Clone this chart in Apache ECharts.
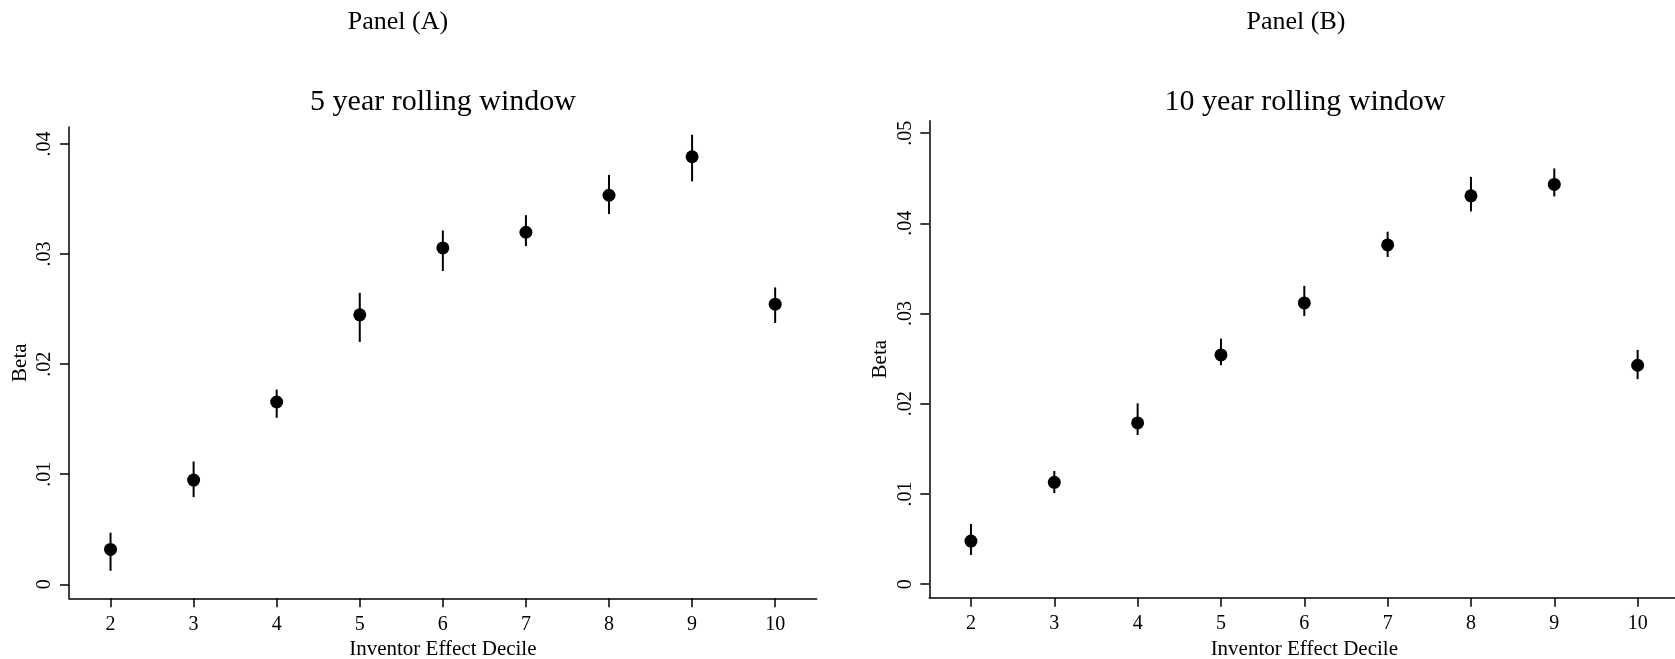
<!DOCTYPE html>
<html>
<head>
<meta charset="utf-8">
<script src="https://cdn.jsdelivr.net/npm/echarts@6/dist/echarts.min.js"></script>
<style>
html,body{margin:0;padding:0;background:#fff;}
#chart{width:1675px;height:659px;}
</style>
</head>
<body>
<div id="chart"></div>
<script>
// ---- data ----
const deciles = [2, 3, 4, 5, 6, 7, 8, 9, 10];
const xTickValues = [2, 3, 4, 5, 6, 7, 8, 9, 10];

// Panel A: 5 year rolling window
const beta5 = [0.00317, 0.00947, 0.01656, 0.02448, 0.03056, 0.03198, 0.03534, 0.03884, 0.02545];
const lo5   = [0.00123, 0.00792, 0.01513, 0.02202, 0.02846, 0.03072, 0.03363, 0.03660, 0.02374];
const hi5   = [0.00469, 0.01116, 0.01769, 0.02648, 0.03214, 0.03353, 0.03719, 0.04084, 0.02697];

// Panel B: 10 year rolling window
const beta10 = [0.00478, 0.01129, 0.01788, 0.02541, 0.03118, 0.03761, 0.04305, 0.04432, 0.02427];
const lo10   = [0.00324, 0.01010, 0.01654, 0.02427, 0.02972, 0.03627, 0.04132, 0.04298, 0.02273];
const hi10   = [0.00667, 0.01255, 0.02005, 0.02723, 0.03307, 0.03907, 0.04515, 0.04609, 0.02597];

const yTickValuesA = [0, 0.01, 0.02, 0.03, 0.04];
const yTickLabelsA = ["0", ".01", ".02", ".03", ".04"];
const yTickValuesB = [0, 0.01, 0.02, 0.03, 0.04, 0.05];
const yTickLabelsB = ["0", ".01", ".02", ".03", ".04", ".05"];

const panelLabels = ["Panel (A)", "Panel (B)"];
const panelTitles = ["5 year rolling window", "10 year rolling window"];
const xName = "Inventor Effect Decile";
const yName = "Beta";

// ---- chart ----
const FONT = "'Liberation Serif','Times New Roman',serif";
const chart = echarts.init(document.getElementById('chart'), null, {renderer: 'canvas'});

function labelFor(values, labels) {
  return function (v) {
    for (let i = 0; i < values.length; i++) {
      if (Math.abs(values[i] - v) < 1e-9) return labels[i];
    }
    return '';
  };
}

function xAxisCfg(gridIndex) {
  return {
    type: 'value', gridIndex: gridIndex, min: 1.5, max: 10.5,
    name: xName, nameLocation: 'middle', nameGap: 34,
    nameTextStyle: {fontFamily: FONT, fontSize: 21, color: '#000'},
    axisLine: {show: true, onZero: false, lineStyle: {color: '#000', width: 1.5}},
    axisTick: {show: true, length: 9, inside: false, customValues: xTickValues, lineStyle: {color: '#000', width: 1.5}},
    axisLabel: {show: true, margin: 16, customValues: xTickValues, fontFamily: FONT, fontSize: 20, color: '#000',
      formatter: v => String(v)},
    splitLine: {show: false}
  };
}

function yAxisCfg(gridIndex, min, max, vals, labels) {
  return {
    type: 'value', gridIndex: gridIndex, min: min, max: max,
    name: yName, nameLocation: 'middle', nameGap: 38, nameRotate: 90,
    nameTextStyle: {fontFamily: FONT, fontSize: 21, color: '#000'},
    axisLine: {show: true, onZero: false, lineStyle: {color: '#000', width: 1.5}},
    axisTick: {show: true, length: 9, inside: false, customValues: vals, lineStyle: {color: '#000', width: 1.5}},
    axisLabel: {show: true, margin: 14, rotate: 90, customValues: vals, fontFamily: FONT, fontSize: 20, color: '#000',
      formatter: labelFor(vals, labels)},
    splitLine: {show: false}
  };
}

function errData(lo, hi) {
  return deciles.map((d, i) => [d, lo[i], hi[i]]);
}
function ptData(b) {
  return deciles.map((d, i) => [d, b[i]]);
}

function errSeries(idx, lo, hi) {
  return {
    type: 'custom', xAxisIndex: idx, yAxisIndex: idx,
    data: errData(lo, hi),
    encode: {x: 0, y: [1, 2]},
    z: 2,
    renderItem: function (params, api) {
      const x = api.value(0);
      const p1 = api.coord([x, api.value(1)]);
      const p2 = api.coord([x, api.value(2)]);
      return {
        type: 'line',
        shape: {x1: p1[0], y1: p1[1], x2: p2[0], y2: p2[1]},
        style: {stroke: '#000', lineWidth: 2}
      };
    },
    silent: true
  };
}

function ptSeries(idx, b) {
  return {
    type: 'scatter', xAxisIndex: idx, yAxisIndex: idx,
    data: ptData(b), symbol: 'circle', symbolSize: 13,
    itemStyle: {color: '#000', opacity: 1}, z: 3, silent: true
  };
}

function textEl(text, x, y, size) {
  return {
    type: 'text', x: x, y: y,
    style: {text: text, fontFamily: FONT, fontSize: size, fill: '#000', align: 'center', verticalAlign: 'middle'}
  };
}

chart.setOption({
  animation: false,
  backgroundColor: '#fff',
  grid: [
    {left: 69, top: 127, width: 747.7, height: 471.3, outerBoundsMode: 'none', containLabel: false},
    {left: 929.3, top: 120.7, width: 750, height: 477, outerBoundsMode: 'none', containLabel: false}
  ],
  xAxis: [xAxisCfg(0), xAxisCfg(1)],
  yAxis: [
    yAxisCfg(0, -0.00127, 0.04154, yTickValuesA, yTickLabelsA),
    yAxisCfg(1, -0.0015, 0.05138, yTickValuesB, yTickLabelsB)
  ],
  series: [
    errSeries(0, lo5, hi5), ptSeries(0, beta5),
    errSeries(1, lo10, hi10), ptSeries(1, beta10)
  ],
  graphic: [
    textEl(panelLabels[0], 398, 22, 26),
    textEl(panelLabels[1], 1296, 22, 26),
    textEl(panelTitles[0], 443, 102, 30),
    textEl(panelTitles[1], 1305, 102, 30)
  ]
});
</script>
</body>
</html>
